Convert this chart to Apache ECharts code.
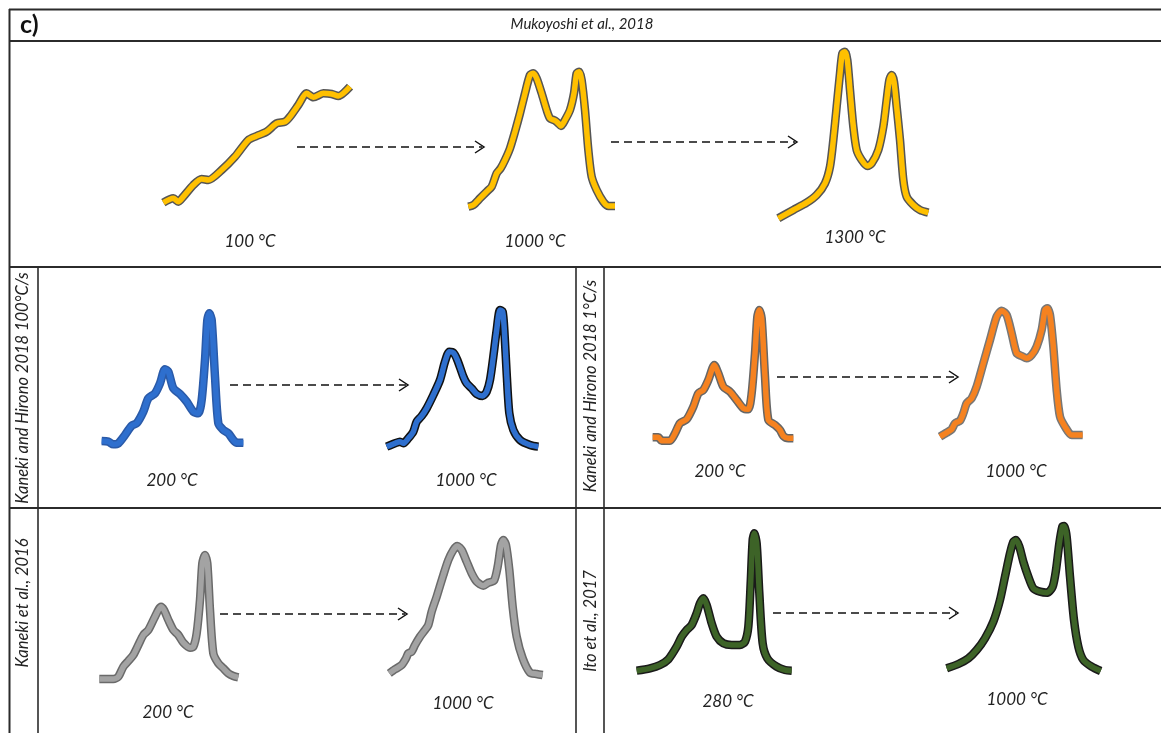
<!DOCTYPE html>
<html><head><meta charset="utf-8">
<script src="https://cdn.jsdelivr.net/npm/echarts/dist/echarts.min.js"></script>
<style>html,body{margin:0;padding:0;background:#fff}#c{width:1161px;height:733px}</style>
</head><body><div id="c"></div>
<script>
// ---- Data: schematic signal profiles (position, intensity in arbitrary units) ----
const muko100_x = [40,70,85,100,130,155,175,215,255,295,320,350,380,405,420,445,470,490,520,545,565,600];
const muko100_y = [52,65,55,70,105,123,120,150,190,240,252,265,290,295,310,345,380,368,380,378,372,400];

const muko1000_x = [55,70,90,110,125,140,152,165,180,195,210,225,240,250,260,275,290,300,315,325,333,345,360,372,380,388,395,405,415,425,440,460,475,495];
const muko1000_y = [40,45,65,85,100,140,155,180,215,265,320,380,435,440,425,380,330,305,298,290,282,300,330,380,440,445,420,330,210,130,90,55,42,42];

const muko1300_x = [55,100,140,170,195,210,220,230,240,247,255,262,270,280,290,305,322,335,355,370,380,388,395,402,410,420,430,440,460,480,505];
const muko1300_y = [35,60,82,105,140,190,270,370,470,530,535,510,420,310,240,210,192,200,240,310,390,450,465,445,370,270,150,100,75,60,52];

const kh100_200_x = [305,325,340,355,375,395,410,430,445,465,480,495,505,520,540,560,580,595,605,615,622,628,635,645,655,670,685,700,710,730];
const kh100_200_y = [207,205,197,200,225,253,260,295,335,350,380,422,415,365,348,325,295,290,330,450,570,590,570,400,260,240,230,210,202,202];

const kh100_1000_x = [50,75,90,100,115,130,140,155,170,190,210,225,238,250,262,280,290,305,320,338,350,360,370,380,390,398,403,410,418,430,450,480,505];
const kh100_1000_y = [40,50,55,50,65,85,115,132,155,195,240,295,325,322,300,250,230,215,198,192,205,240,310,390,450,445,390,260,140,90,60,45,40];

const kh1_200_x = [248,265,275,300,315,330,350,370,385,400,415,433,445,460,480,500,520,535,545,555,562,568,575,585,595,615,630,640,655,670];
const kh1_200_y = [218,218,208,208,230,260,272,310,350,360,390,435,410,370,355,330,305,302,350,470,580,600,575,400,270,255,240,222,215,215];

const kh1_1000_x = [150,170,185,195,210,220,230,245,260,280,300,320,335,350,365,380,395,410,425,440,455,465,472,480,490,500,510,525,545,578];
const kh1_1000_y = [70,82,92,110,118,140,170,185,220,290,360,430,448,435,380,320,312,305,315,340,390,450,455,435,340,210,130,100,75,75];

const k16_200_x = [298,320,340,355,370,385,400,415,430,445,465,483,492,505,520,535,550,570,580,590,600,607,615,622,630,640,655,670,685,700,715];
const k16_200_y = [162,162,162,169,199,216,234,264,294,309,349,379,369,339,309,294,271,256,259,299,399,509,534,509,369,239,209,194,179,171,167];

const k16_1000_x = [58,75,95,108,115,125,135,150,165,175,185,200,220,235,250,262,275,290,305,320,340,355,372,383,393,400,408,418,428,440,458,480,500,518];
const k16_1000_y = [50,62,75,95,110,115,135,160,180,195,235,280,345,390,420,432,420,385,350,325,313,322,328,370,435,450,435,360,250,160,95,52,48,45];

const ito280_x = [170,210,240,265,290,305,320,335,350,360,370,380,395,410,430,455,480,495,505,512,518,523,530,538,548,562,590,615,635];
const ito280_y = [187,194,204,221,259,289,309,324,359,389,404,384,329,289,269,264,264,274,319,449,579,599,569,419,269,224,199,189,187];

const ito1000_x = [50,85,115,140,165,190,210,225,240,250,258,268,280,295,310,330,352,368,378,388,397,403,410,420,432,445,460,485,512];
const ito1000_y = [35,48,65,90,125,175,240,310,380,415,420,400,355,310,275,265,262,280,330,410,460,462,430,310,180,100,60,40,27];

// ---- Text ----
const titleText = 'Mukoyoshi et al., 2018';
const panelLetter = 'c)';
const sideLabels = ['Kaneki and Hirono 2018 100°C/s','Kaneki and Hirono 2018 1°C/s','Kaneki et al., 2016','Ito et al., 2017'];
const tempLabels = ['100 °C','1000 °C','1300 °C','200 °C','1000 °C','200 °C','1000 °C','200 °C','1000 °C','280 °C','1000 °C'];

// ---- Layout & style ----
const YEL='#FFC000', BLU='#2E6FCE', ORA='#F58220', GRY='#A3A3A3', GRN='#3D6327';
const curves = [
  {x:muko100_x, y:muko100_y, box:[150,70,220,150], c:YEL, e:'#555'},
  {x:muko1000_x,y:muko1000_y,box:[450,60,180,160], c:YEL, e:'#555'},
  {x:muko1300_x,y:muko1300_y,box:[760,40,200,190], c:YEL, e:'#555'},
  {x:kh100_200_x,y:kh100_200_y,box:[0,260,260,250], c:BLU, e:'#2A5AA8'},
  {x:kh100_1000_x,y:kh100_1000_y,box:[370,290,200,170], c:BLU, e:'#111'},
  {x:kh1_200_x,y:kh1_200_y,box:[570,260,250,250], c:ORA, e:'#666'},
  {x:kh1_1000_x,y:kh1_1000_y,box:[890,290,200,170], c:ORA, e:'#777'},
  {x:k16_200_x,y:k16_200_y,box:[0,500,260,233], c:GRY, e:'#6a6a6a'},
  {x:k16_1000_x,y:k16_1000_y,box:[370,530,200,160], c:GRY, e:'#6a6a6a'},
  {x:ito280_x,y:ito280_y,box:[580,500,250,233], c:GRN, e:'#1a1a1a'},
  {x:ito1000_x,y:ito1000_y,box:[930,510,200,170], c:GRN, e:'#1a1a1a'}
];
const tempPos = [[250,242],[535,242],[855,238],[172,481],[466,481],[720,472],[1016,472],[168,713],[463,704],[728,702],[1017,700]];
const arrows = [[297,484,147],[611,797,142],[230,408,385],[777,958,377],[220,407,614],[773,958,613]];

const grids=[], xAxes=[], yAxes=[], series=[];
curves.forEach((cv,i)=>{
  const [l,t,w,h]=cv.box;
  grids.push({left:l,top:t,width:w,height:h,containLabel:false});
  xAxes.push({type:'value',gridIndex:i,min:0,max:w*3,show:false});
  yAxes.push({type:'value',gridIndex:i,min:0,max:h*3,show:false});
  const d = cv.x.map((v,k)=>[v,cv.y[k]]);
  series.push({type:'line',xAxisIndex:i,yAxisIndex:i,data:d,smooth:0.25,symbol:'none',silent:true,
    lineStyle:{color:cv.e,width:8.5,cap:'butt',join:'round'}});
  series.push({type:'line',xAxisIndex:i,yAxisIndex:i,data:d,smooth:0.25,symbol:'none',silent:true,
    lineStyle:{color:cv.c,width:5.5,cap:'butt',join:'round'}});
});

const LC='#2b2b2b';
const g=[];
function hl(x1,x2,y,w){g.push({type:'line',shape:{x1:x1,y1:y,x2:x2,y2:y},style:{stroke:LC,lineWidth:w||1.6},z:10});}
function vl(x,y1,y2,w){g.push({type:'line',shape:{x1:x,y1:y1,x2:x,y2:y2},style:{stroke:LC,lineWidth:w||1.6},z:10});}
hl(9,1161,9.5,2); hl(9,1161,41,1.8); hl(9,1161,267,1.8); hl(9,1161,508,1.8);
vl(9.5,9,733,2); vl(38,267,733,1.6); vl(576,267,733,1.6); vl(604,267,733,1.6);

arrows.forEach(a=>{
  g.push({type:'line',shape:{x1:a[0],y1:a[2],x2:a[1]-2,y2:a[2]},style:{stroke:'#111',lineWidth:1.5,lineDash:[8,5]},z:10});
  g.push({type:'polyline',shape:{points:[[a[1]-9,a[2]-6],[a[1],a[2]],[a[1]-9,a[2]+6]]},style:{stroke:'#111',lineWidth:1.5,fill:null},z:10});
});

const FONT='Lato, "Open Sans", sans-serif';
g.push({type:'text',x:582,y:24,style:{text:titleText,font:'italic 15px '+FONT,fill:'#222',align:'center',verticalAlign:'middle'},z:10});
g.push({type:'text',x:20,y:25,style:{text:panelLetter,font:'bold 25px '+FONT,fill:'#111',align:'left',verticalAlign:'middle'},z:10});
tempLabels.forEach((t,i)=>{
  g.push({type:'text',x:tempPos[i][0],y:tempPos[i][1],style:{text:t,font:'italic 17px '+FONT,fill:'#222',align:'center',verticalAlign:'middle'},z:10});
});
const sidePos=[[23,388],[591,386],[23,603],[591,621]];
sideLabels.forEach((t,i)=>{
  g.push({type:'text',x:sidePos[i][0],y:sidePos[i][1],rotation:Math.PI/2,style:{text:t,font:'italic 16.5px '+FONT,fill:'#222',align:'center',verticalAlign:'middle'},z:10});
});

const chart=echarts.init(document.getElementById('c'),null,{renderer:'canvas'});
chart.setOption({animation:false,backgroundColor:'#fff',grid:grids,xAxis:xAxes,yAxis:yAxes,series:series,graphic:g});
</script></body></html>
